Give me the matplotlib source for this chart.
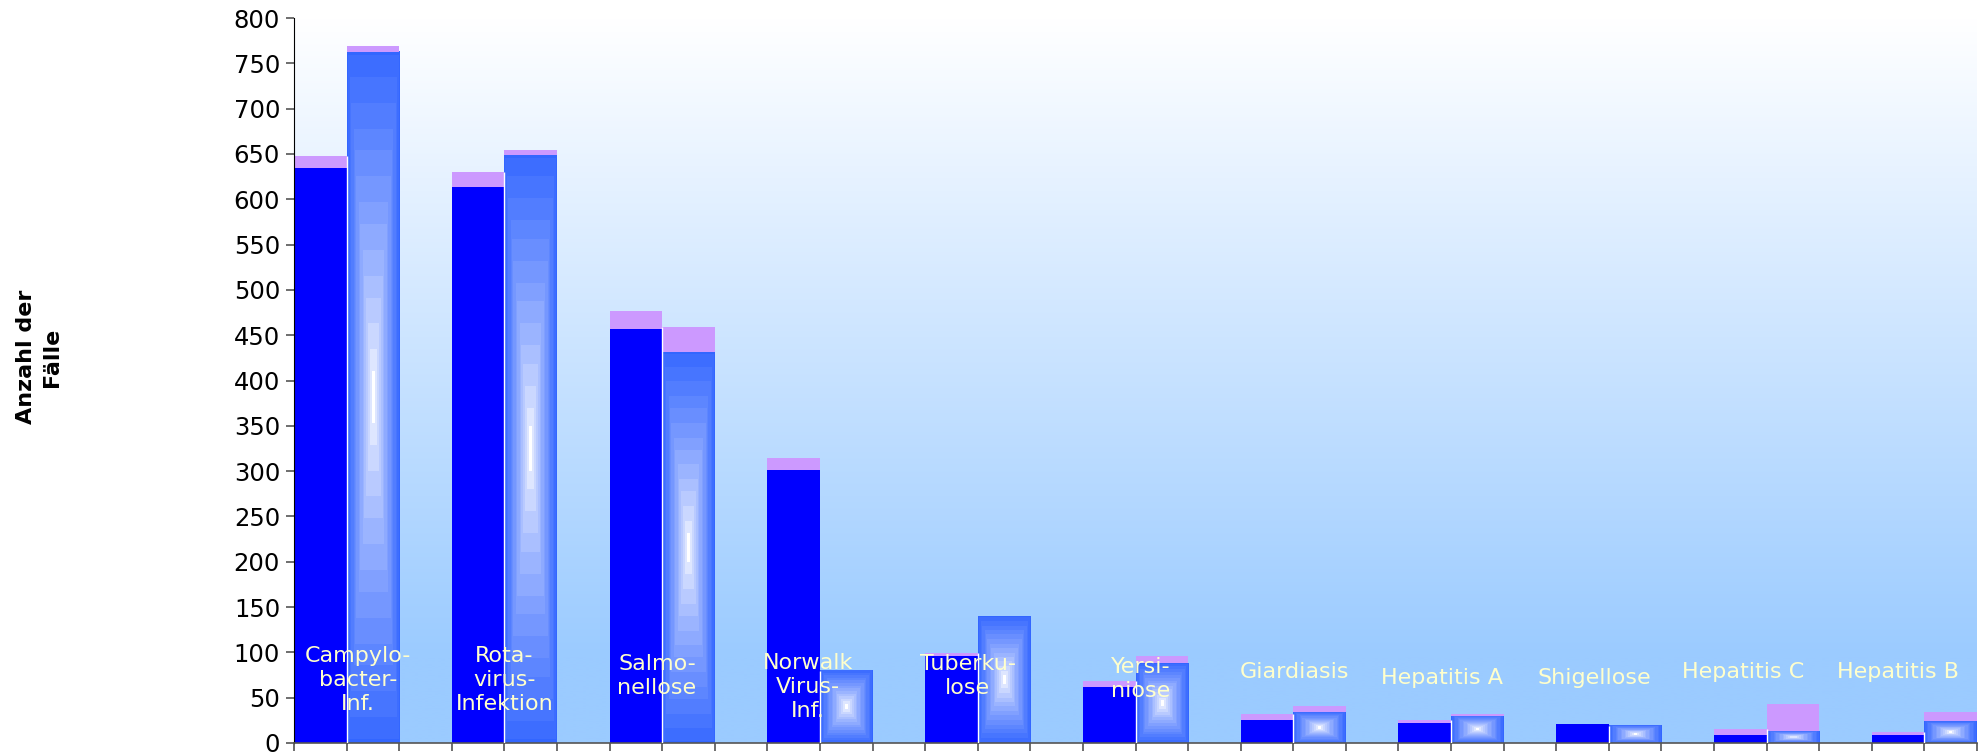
import numpy as np
import matplotlib.pyplot as plt

# categories (label text as printed inside the chart)
categories = ["Campylo-\nbacter-\nInf.", "Rota-\nvirus-\nInfektion", "Salmo-\nnellose",
              "Norwalk\nVirus-\nInf.", "Tuberku-\nlose", "Yersi-\nniose", "Giardiasis",
              "Hepatitis A", "Shigellose", "Hepatitis C", "Hepatitis B"]

# first bar of each group (solid blue) + lilac top part
base1 = [634, 614, 457, 301, 96, 62, 25, 22, 21, 9, 9]
top1 = [14, 16, 20, 14, 3, 6, 7, 3, 0, 7, 3]
# second bar of each group (gradient) + lilac top part
base2 = [763, 649, 431, 80, 140, 88, 34, 30, 19, 13, 24]
top2 = [6, 5, 28, 0, 0, 8, 7, 2, 0, 30, 10]

# where each category label sits (height, and shift from the bar seam)
label_y = [70, 70, 74, 62, 74, 71, 78, 72, 72, 78, 78]
label_dx = [0.22, 0, -0.1, -0.23, -0.19, 0.1, 0.03, -0.17, -0.28, -0.44, -0.51]

yticks = list(range(0, 801, 50))

BLUE = '#0000FF'
EDGE = np.array([0.2, 0.4, 1.0])
LILAC = '#CC99FF'
LABEL = '#FFFFCC'

fig = plt.figure(figsize=(19.82, 7.56), dpi=100)
ax = fig.add_axes([294 / 1982, 13 / 756, (1977 - 294) / 1982, (743 - 18) / 756])

# plot area background: white at top to light blue at bottom
frac = np.linspace(0, 1, 256)[:, None]
f = np.clip(frac / 0.88, 0, 1)
bottom_col = np.array([155, 203, 255]) / 255.0
bg = (1 - f)[..., None] * np.ones(3) + f[..., None] * bottom_col
bg = np.repeat(bg, 2, axis=1)
ax.imshow(bg, extent=(0, 1, 0, 1), transform=ax.transAxes, aspect='auto',
          origin='upper', zorder=0, interpolation='bilinear')


def rect_gradient(nrow=160, ncol=40):
    u = np.linspace(-1, 1, ncol)[None, :]
    v = np.linspace(-1, 1, nrow)[:, None]
    t = np.maximum(np.abs(u), np.abs(v))
    t = np.floor(t * 14) / 14
    w = t ** 0.7
    img = (1 - w)[..., None] * np.ones(3) + w[..., None] * EDGE
    return img


n = len(categories)
x1 = np.arange(n) * 3
x2 = x1 + 1

ax.bar(x1, base1, width=1, align='edge', color=BLUE, zorder=2)
ax.bar(x1, top1, bottom=base1, width=1, align='edge', color=LILAC, zorder=2)

for i in range(n):
    ax.imshow(rect_gradient(), extent=(x2[i], x2[i] + 1, 0, base2[i]),
              aspect='auto', origin='lower', zorder=2, interpolation='nearest')
ax.bar(x2, top2, bottom=base2, width=1, align='edge', color=LILAC, zorder=2)

# thin white seam between the two bars of a group
seam = np.minimum(np.array(base1) + np.array(top1), np.array(base2) + np.array(top2))
ax.vlines(x2, 0, seam, color='white', lw=1, zorder=3)

for i, lab in enumerate(categories):
    ax.text(x2[i] + label_dx[i], label_y[i], lab, color=LABEL, fontsize=16, ha='center',
            va='center', multialignment='center', linespacing=1.25, zorder=4)

ax.set_xlim(0, 3 * n - 1)
ax.set_ylim(0, 800)
ax.set_xticks(np.arange(0, 3 * n))
ax.set_xticklabels([])
ax.set_yticks(yticks)
ax.tick_params(axis='y', labelsize=17.5, length=6, width=1.2, color='#555555', pad=4)
ax.tick_params(axis='x', length=6, width=1.2, color='#555555')
for s in ['top', 'right']:
    ax.spines[s].set_visible(False)
ax.spines['left'].set_color('black')
ax.spines['bottom'].set_color('#555555')
ax.spines['bottom'].set_linewidth(1.2)

fig.text(39 / 1982, 1 - 357 / 756, "Anzahl der\nFälle", rotation=90, fontsize=16,
         fontweight='bold', ha='center', va='center', multialignment='center',
         linespacing=1.4)

fig.savefig('out.png', dpi=100)
